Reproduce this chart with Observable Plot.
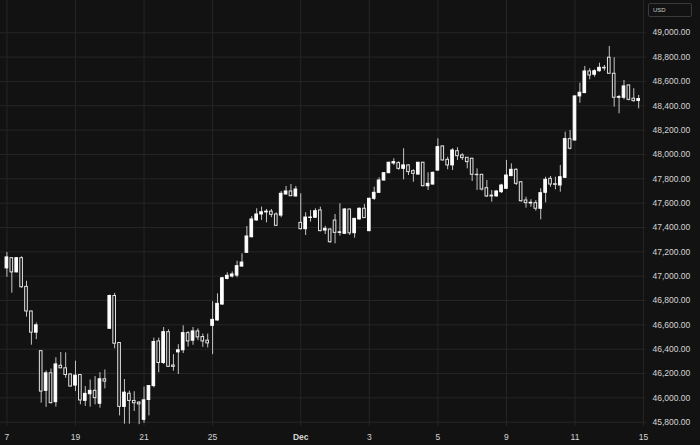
<!DOCTYPE html>
<html>
<head>
<meta charset="utf-8">
<script src="https://cdn.jsdelivr.net/npm/d3@7"></script>
<script src="https://cdn.jsdelivr.net/npm/@observablehq/plot@0.6"></script>
<style>
  html, body { margin: 0; padding: 0; background: #121212; }
  #chart { position: relative; width: 700px; height: 445px; overflow: hidden; }
  #usd { position: absolute; left: 648px; top: 3px; width: 44px; height: 14px; box-sizing: border-box;
         border: 1px solid #3a3a3a; border-radius: 2px; color: #c8c8c8;
         font: 6px "Liberation Sans", Arial, sans-serif; line-height: 12px; padding-left: 4px; }
</style>
</head>
<body>
<div id="chart"><div id="usd">USD</div></div>
<script>
// OHLC values, one entry per candle (index 0 .. 129)
const open  = [47064,47148,47031,47148,46912,46710,46536,46384,46058,46202,45965,46264,46243,46193,46101,46188,45976,46030,46058,45952,46153,
  46568,46837,46451,45926,46034,45975,45961,45820,45983,46097,46464,46287,46540,46266,46374,46391,46532,46470,46546,46500,46470,46592,
  46636,46767,46978,46997,47005,47079,47192,47320,47458,47507,47524,47530,47507,47498,47671,47696,47655,47438,47386,47478,47480,47540,
  47375,47383,47457,47356,47348,47548,47353,47466,47554,47370,47636,47685,47786,47846,47926,47929,47882,47910,47863,47835,47932,47739,
  47753,47868,48066,47956,47910,48027,47992,47973,47965,47833,47833,47723,47662,47655,47690,47718,47822,47874,47772,47622,47598,47600,
  47554,47685,47800,47756,47745,47808,48126,48115,48477,48504,48682,48655,48684,48712,48795,48663,48466,48466,48567,48458,48440];
const high  = [47195,47150,47150,47159,46958,46712,46615,46384,46221,46237,46330,46373,46370,46195,46302,46190,46093,46147,46175,46207,46229,
  46845,46859,46455,46151,46056,46051,45970,46089,46100,46491,46491,46578,46559,46355,46437,46592,46545,46578,46567,46524,46524,46791,
  46855,46990,47028,47035,47123,47184,47408,47490,47554,47567,47548,47548,47520,47696,47737,47753,47737,47677,47521,47540,47554,47567,
  47410,47390,47507,47595,47555,47550,47475,47560,47589,47640,47731,47808,47850,47936,47965,47940,48047,47915,47875,47935,47935,47849,
  47855,48129,48070,47978,48047,48055,48006,47975,47968,47882,47835,47786,47704,47700,47755,47951,47923,47882,47775,47649,47628,47622,
  47718,47813,47819,47813,47910,48183,48197,48480,48586,48723,48704,48696,48750,48731,48887,48795,48485,48608,48570,48540,48485];
const low   = [46991,46860,47028,46901,46664,46433,46479,45957,45922,45950,45924,46240,46161,46090,46052,45943,45930,45924,45943,45916,46074,
  46565,46404,45852,45784,45784,45888,45780,45792,45852,46083,46206,46274,46250,46219,46192,46364,46418,46432,46470,46415,46410,46355,
  46630,46760,46970,46985,46987,47075,47190,47315,47452,47458,47438,47480,47410,47480,47668,47655,47650,47380,47334,47444,47475,47365,
  47342,47270,47266,47330,47345,47334,47312,47462,47475,47365,47622,47680,47782,47843,47910,47870,47792,47827,47772,47830,47735,47704,
  47748,47862,47945,47874,47868,47951,47951,47882,47778,47704,47700,47646,47608,47650,47680,47712,47818,47745,47608,47559,47567,47534,
  47463,47603,47731,47710,47690,47805,48038,48110,48421,48500,48614,48635,48676,48684,48660,48389,48334,48449,48440,48430,48375];
const close = [47154,47031,47148,46909,46710,46536,46596,46052,46202,45957,46275,46243,46188,46093,46183,45979,46033,46058,45998,46153,46134,
  46837,46445,45926,46043,45975,45956,45947,45980,46097,46459,46287,46540,46255,46255,46391,46532,46464,46546,46497,46464,46448,46641,
  46773,46983,47003,47014,47082,47112,47326,47466,47507,47525,47530,47504,47414,47677,47696,47657,47712,47386,47482,47482,47534,47370,
  47389,47279,47356,47360,47548,47352,47471,47554,47477,47636,47685,47786,47846,47932,47937,47882,47910,47855,47841,47932,47739,47759,
  47849,48060,47951,47910,48033,47986,47970,47937,47833,47830,47712,47655,47655,47696,47745,47827,47874,47759,47616,47600,47603,47554,
  47682,47792,47753,47750,47813,48126,48047,48477,48507,48682,48649,48684,48712,48707,48663,48466,48471,48559,48449,48438,48455];

// axis ticks
const xTickIndex  = [0, 14, 28, 42, 60, 74, 88, 102, 116, 130];
const xTickLabels = ["7", "19", "21", "25", "Dec", "3", "5", "9", "11", "15"];
const yTicks = [45800, 46000, 46200, 46400, 46600, 46800, 47000, 47200, 47400, 47600, 47800, 48000, 48200, 48400, 48600, 48800, 49000];

const candles = open.map((o, i) => ({i, o, h: high[i], l: low[i], c: close[i], up: close[i] >= o}));
const ups = candles.filter(d => d.up);
const downs = candles.filter(d => !d.up);
const labelOf = new Map(xTickIndex.map((t, k) => [t, xTickLabels[k]]));
const monthTicks = xTickIndex.filter(t => labelOf.get(t) === "Dec");
const dayTicks = xTickIndex.filter(t => labelOf.get(t) !== "Dec");

const BG = "#121212";
const GRID = "#262626";
const TEXT = "#d4d4d4";
const halfW = 0.27;

const chart = Plot.plot({
  width: 700,
  height: 445,
  marginLeft: 0,
  marginRight: 54,
  marginTop: 0,
  marginBottom: 19,
  style: {background: BG, color: TEXT, fontFamily: "'Liberation Sans', Arial, sans-serif", fontSize: "8.5px"},
  x: {type: "linear", domain: [-1.31, 130.6]},
  y: {domain: [45765, 49265]},
  marks: [
    Plot.gridY(yTicks, {stroke: GRID, strokeOpacity: 1}),
    Plot.gridX(xTickIndex, {stroke: GRID, strokeOpacity: 1}),
    Plot.ruleX(candles, {x: "i", y1: "l", y2: "h", stroke: "#c4c4c4", strokeWidth: 1}),
    Plot.rect(downs, {x1: d => d.i - halfW, x2: d => d.i + halfW, y1: "o", y2: "c", fill: BG, stroke: "#e4e4e4", strokeWidth: 1}),
    Plot.rect(ups, {x1: d => d.i - halfW, x2: d => d.i + halfW, y1: "o", y2: "c", fill: "#ffffff", stroke: "#ffffff", strokeWidth: 1}),
    Plot.axisY(yTicks, {anchor: "right", tickSize: 0, tickPadding: 6, tickFormat: d3.format(",.2f"), label: null, fill: TEXT}),
    Plot.axisX(dayTicks, {anchor: "bottom", tickSize: 0, tickPadding: 7, tickFormat: d => labelOf.get(d), label: null, fill: TEXT}),
    Plot.axisX(monthTicks, {anchor: "bottom", tickSize: 0, tickPadding: 7, tickFormat: d => labelOf.get(d), label: null, fill: TEXT, fontWeight: "bold"})
  ]
});
document.getElementById("chart").prepend(chart);
</script>
</body>
</html>
